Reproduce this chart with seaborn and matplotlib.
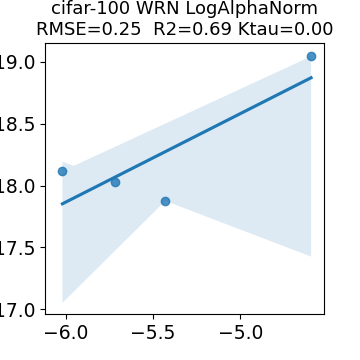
import matplotlib
matplotlib.use('Agg')
import matplotlib.pyplot as plt
import seaborn as sns
import numpy as np

# values
log_alpha_norm = [-6.02, -5.716, -5.43, -4.594]
test_acc = [18.117, 18.03, 17.876, 19.044]

title = 'cifar-100 WRN LogAlphaNorm\nRMSE=0.25  R2=0.69 Ktau=0.00'

plt.rcParams['font.size'] = 13
fig = plt.figure(figsize=(3.6, 3.6), dpi=100)
ax = fig.add_subplot(111)
sns.regplot(x=np.array(log_alpha_norm), y=np.array(test_acc), ax=ax, seed=3)
ax.set_title(title, fontsize=13)
ax.set_xticks([-6.0, -5.5, -5.0])
ax.set_yticks([17.0, 17.5, 18.0, 18.5, 19.0])
ax.tick_params(labelsize=13.5)
ax.set_ylim(16.96, 19.15)
ax.set_xlim(-6.12, -4.52)
fig.subplots_adjust(left=0.125, right=0.9, bottom=0.127, top=0.88)

plt.savefig('out.png', dpi=100)
